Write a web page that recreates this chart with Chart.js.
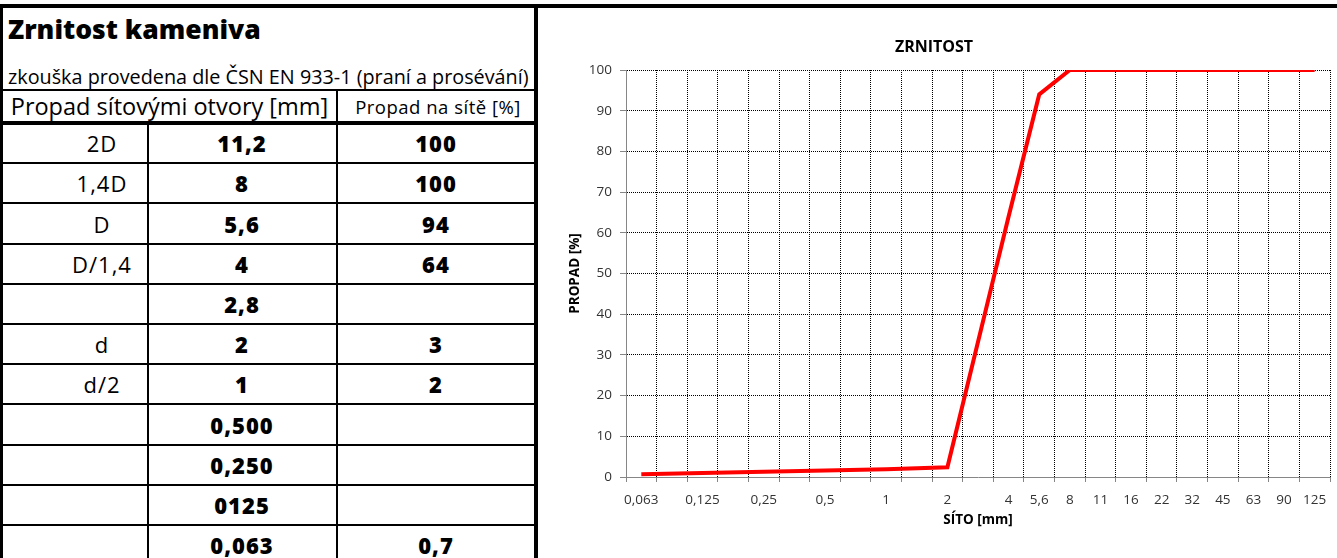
<!DOCTYPE html>
<html><head><meta charset="utf-8">
<script src="https://cdn.jsdelivr.net/npm/chart.js@4.4.1/dist/chart.umd.min.js"></script>
<style>
html,body{margin:0;padding:0;background:#fff;overflow:hidden;}
body{width:1337px;height:558px;position:relative;font-family:'Open Sans',sans-serif;color:#000;}
.ln{position:absolute;background:#000;}
.tx{position:absolute;white-space:nowrap;line-height:1;}
.c{transform:translate(-50%,-50%);}
.l{transform:translate(0,-50%);}
#wrap{position:absolute;left:538px;top:8px;width:819px;height:550px;}
</style></head><body>
<div id="table"></div>
<div id="wrap"><canvas id="chart" width="819" height="550"></canvas></div>
<script>
// ---- table data ----
const tableTitle = 'Zrnitost kameniva';
const tableSubtitle = 'zkouška provedena dle ČSN EN 933-1 (praní a prosévání)';
const headerSieve = 'Propad sítovými otvory [mm]';
const headerPassing = 'Propad na sítě [%]';
const rowLabels = ['2D','1,4D','D','D/1,4','','d','d/2','','','',''];
const rowSieves = ['11,2','8','5,6','4','2,8','2','1','0,500','0,250','0125','0,063'];
const rowPassing = ['100','100','94','64','','3','2','','','','0,7'];

// ---- chart data ----
const chartTitle = 'ZRNITOST';
const xTitle = 'SÍTO [mm]';
const yTitle = 'PROPAD [%]';
const sieveLabels = ['0,063','','0,125','','0,25','','0,5','','1','','2','','4','5,6','8','11','16','22','32','45','63','90','125'];
const passingValues = [0.7,null,null,null,null,null,null,null,1.9,null,2.4,null,64,94,100,100,100,100,100,100,100,100,100];
const yMin = 0, yMax = 100, yStep = 10;

// ---- build table ----
const T = document.getElementById('table');
function line(x,y,w,h){const d=document.createElement('div');d.className='ln';Object.assign(d.style,{left:x+'px',top:y+'px',width:w+'px',height:h+'px'});T.appendChild(d);}
function text(s,x,y,cls,font,ls){const d=document.createElement('div');d.className='tx '+cls;d.textContent=s;d.style.left=x+'px';d.style.top=y+'px';d.style.font=font;if(ls)d.style.letterSpacing=ls;T.appendChild(d);}

const rowTop = 123, rowH = 40.2;
line(0,4,1337,4);
line(0,4,3,554);
line(534,4,4,554);
line(0,89,536,2);
line(336,90,2,468);
line(147,123,2,435);
line(0,121,536,4);
for(let i=1;i<rowSieves.length;i++){ line(0,Math.round(rowTop+rowH*i)-1,536,2); }

text(tableTitle,8,29,'l',"800 26.5px 'Open Sans'");
text(tableSubtitle,8,76,'l',"400 19.8px 'Open Sans'");
text(headerSieve,169.5,106,'c',"400 23.5px 'Open Sans'");
text(headerPassing,438,106,'c',"400 18.5px 'Open Sans'",'0.5px');
for(let i=0;i<rowSieves.length;i++){
  const cy = rowTop + rowH*(i+0.5);
  if(rowLabels[i]) text(rowLabels[i],102,cy,'c',"400 22px 'Open Sans'",'1px');
  if(rowSieves[i]) text(rowSieves[i],242,cy,'c',"800 22px 'Open Sans'",'1px');
  if(rowPassing[i]) text(rowPassing[i],436,cy,'c',"800 22px 'Open Sans'",'1px');
}

// ---- chart ----
const gridColor = c => (c.type === 'tick' && c.index === 0) ? 'rgba(0,0,0,0)' : '#000';
const tickFont = {family:'Open Sans', size:13.5};
const titleFont = {family:'Open Sans', size:13.5, weight:'bold'};
new Chart(document.getElementById('chart'), {
  type:'line',
  data:{labels:sieveLabels, datasets:[{data:passingValues, borderColor:'#ff0000', borderWidth:4, pointRadius:0, pointHoverRadius:0, spanGaps:true, tension:0, fill:false}]},
  options:{
    responsive:false, animation:false, events:[],
    layout:{padding:{left:0,right:27,top:0,bottom:0}},
    plugins:{
      legend:{display:false}, tooltip:{enabled:false},
      title:{display:true, text:chartTitle, color:'#000', font:{family:'Open Sans',size:16,weight:'bold',lineHeight:1.2}, padding:{top:30,bottom:12.8}}
    },
    scales:{
      x:{
        type:'category', offset:true,
        grid:{offset:true, color:gridColor, lineWidth:1, tickColor:'#868686', tickLength:5, tickWidth:1, tickBorderDash:[]},
        border:{display:true, color:'#868686', width:1, dash:[1,1]},
        ticks:{autoSkip:false, maxRotation:0, minRotation:0, color:'#333', font:tickFont, padding:10},
        title:{display:true, text:xTitle, color:'#000', font:titleFont, padding:{top:0,bottom:30}},
        afterFit(s){ s.height = 81; }
      },
      y:{
        min:yMin, max:yMax,
        grid:{color:gridColor, lineWidth:1, tickColor:'#868686', tickLength:6, tickWidth:1, tickBorderDash:[]},
        border:{display:true, color:'#868686', width:1, dash:[1,1]},
        ticks:{stepSize:yStep, color:'#333', font:tickFont, padding:8},
        title:{display:true, text:yTitle, color:'#000', font:titleFont, padding:{top:29,bottom:0}},
        afterFit(s){ s.width = 88; }
      }
    }
  }
});
</script>
</body></html>
